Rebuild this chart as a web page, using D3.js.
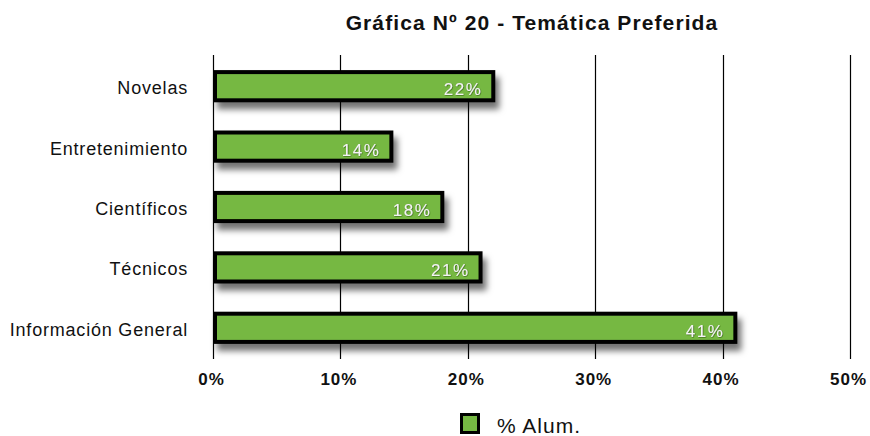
<!DOCTYPE html>
<html>
<head>
<meta charset="utf-8">
<script src="https://cdn.jsdelivr.net/npm/d3@7"></script>
<style>
  html, body { margin: 0; padding: 0; background: #fff; }
  svg { display: block; font-family: "Liberation Sans", Arial, Helvetica, sans-serif; }
</style>
</head>
<body>
<svg id="chart" width="870" height="436"></svg>
<script>
// Temática preferida por los alumnos (% de alumnos)
const categories = ["Novelas", "Entretenimiento", "Científicos", "Técnicos", "Información General"];
const values = [22, 14, 18, 21, 41];
const tickValues = [0, 10, 20, 30, 40, 50];
const seriesName = "% Alum.";
const titleText = "Gráfica Nº 20 - Temática Preferida";

const svg = d3.select("#chart");
const green = "#76b843";

// drop shadow under each bar
const defs = svg.append("defs");
const f = defs.append("filter").attr("id", "shadow")
  .attr("x", "-5%").attr("y", "-30%").attr("width", "115%").attr("height", "190%");
f.append("feDropShadow").attr("dx", 4).attr("dy", 7).attr("stdDeviation", 3.2)
  .attr("flood-color", "#000").attr("flood-opacity", 0.55);
const tf = defs.append("filter").attr("id", "tshadow")
  .attr("x", "-20%").attr("y", "-30%").attr("width", "140%").attr("height", "160%");
tf.append("feDropShadow").attr("dx", 0.6).attr("dy", 0.6).attr("stdDeviation", 0.6)
  .attr("flood-color", "#2f5a10").attr("flood-opacity", 0.9);

const x = d3.scaleLinear().domain([0, 50]).range([213, 850]);
const y = d3.scaleBand().domain(categories).range([56, 358])
  .paddingInner(0.5).paddingOuter(0.25);

// title
svg.append("text")
  .attr("x", 532).attr("y", 30)
  .attr("text-anchor", "middle")
  .attr("font-size", 21).attr("font-weight", "bold").attr("fill", "#111")
  .attr("letter-spacing", 1.1)
  .text(titleText);

// vertical gridlines
svg.append("g").selectAll("line").data(tickValues).join("line")
  .attr("x1", d => Math.round(x(d)) + 0.5).attr("x2", d => Math.round(x(d)) + 0.5)
  .attr("y1", 55).attr("y2", 359)
  .attr("stroke", "#000").attr("stroke-width", 1.2);

// x axis tick labels
const xAxis = d3.axisBottom(x).tickValues(tickValues).tickFormat(d => d + "%").tickSize(0).tickPadding(0);
const gx = svg.append("g").attr("transform", "translate(-2,385)").call(xAxis);
gx.select(".domain").remove();
gx.selectAll("text").attr("dy", 0).attr("font-size", 17).attr("font-weight", "bold").attr("fill", "#111")
  .attr("letter-spacing", 1)
  .attr("font-family", "Liberation Sans, Arial, sans-serif");

// category labels
const yAxis = d3.axisLeft(y).tickSize(0).tickPadding(0);
const gy = svg.append("g").attr("transform", "translate(188,0)").call(yAxis);
gy.select(".domain").remove();
gy.selectAll("text").attr("dy", 0).attr("y", y.bandwidth() / 2 + 8)
  .attr("font-size", 18).attr("fill", "#111")
  .attr("letter-spacing", 0.8)
  .attr("font-family", "Liberation Sans, Arial, sans-serif");
gy.selectAll(".tick").attr("transform", d => `translate(0,${y(d)})`);

// bars
const bars = svg.append("g").selectAll("g").data(categories).join("g");
bars.append("rect")
  .attr("x", x(0) + 2)
  .attr("y", d => y(d) + 1)
  .attr("width", (d, i) => x(values[i]) - x(0) - 2)
  .attr("height", y.bandwidth() - 2)
  .attr("fill", green).attr("stroke", "#000").attr("stroke-width", 4)
  .attr("filter", "url(#shadow)");

// value labels inside bars
bars.append("text")
  .attr("x", (d, i) => x(values[i]) - 11)
  .attr("y", d => y(d) + y.bandwidth() / 2 + 9)
  .attr("text-anchor", "end")
  .attr("font-size", 17).attr("fill", "#f4f4f4")
  .attr("letter-spacing", 1.5)
  .attr("filter", "url(#tshadow)")
  .text((d, i) => values[i] + "%");

// legend
svg.append("rect")
  .attr("x", 461.5).attr("y", 414.5).attr("width", 17).attr("height", 18)
  .attr("fill", green).attr("stroke", "#000").attr("stroke-width", 3);
svg.append("text")
  .attr("x", 497).attr("y", 433)
  .attr("font-size", 21).attr("fill", "#111")
  .attr("letter-spacing", 1)
  .text(seriesName);
</script>
</body>
</html>
